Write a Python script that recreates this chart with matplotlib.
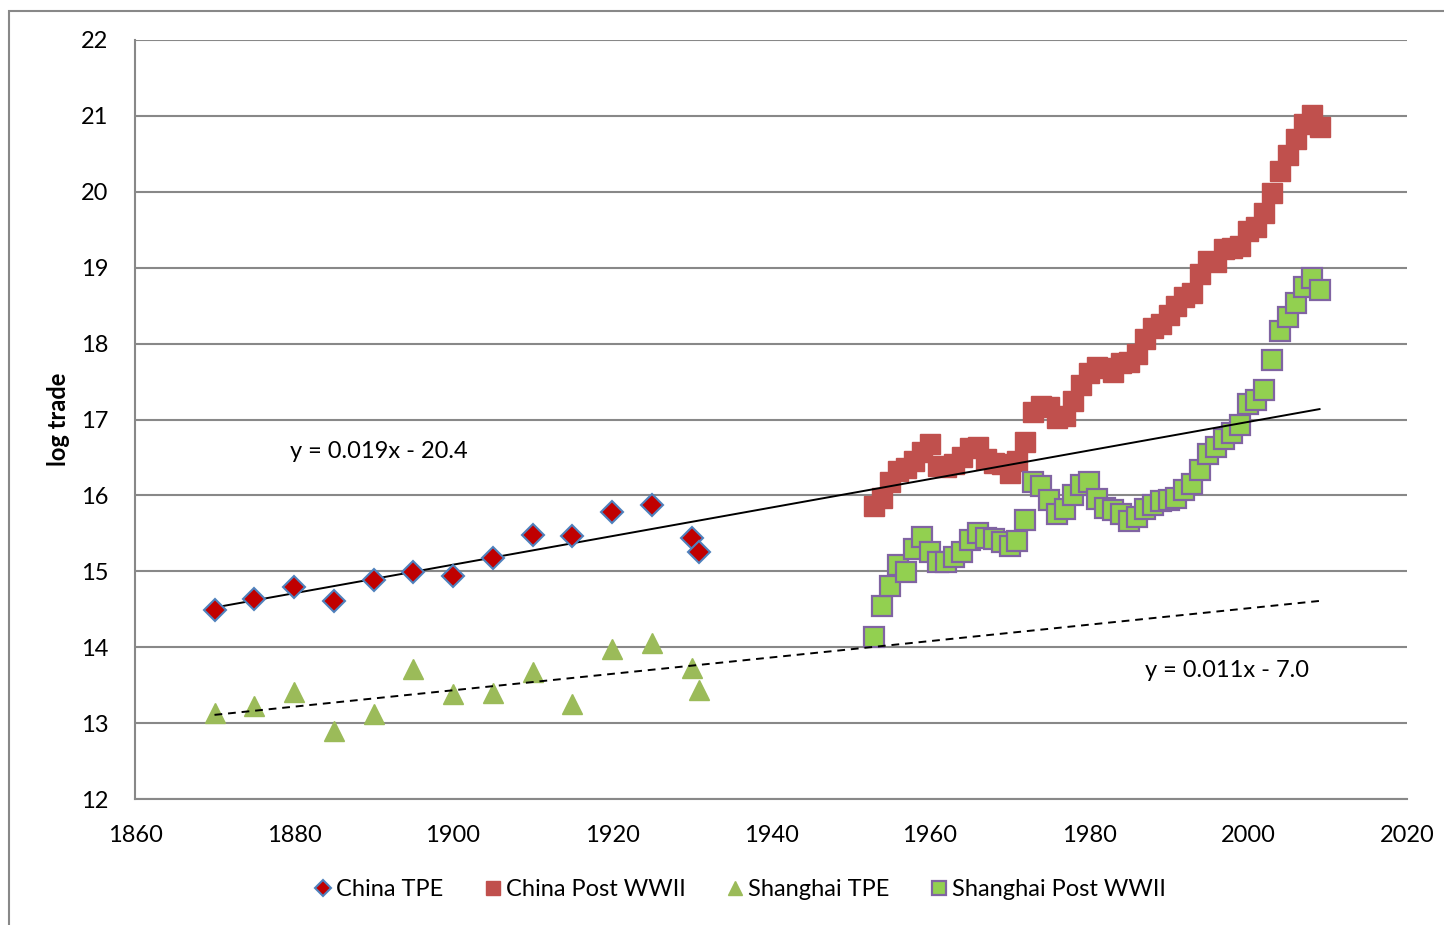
import numpy as np
import matplotlib
matplotlib.use("Agg")
import matplotlib.pyplot as plt
from matplotlib.patches import Rectangle

plt.rcParams['font.family'] = ['Lato', 'DejaVu Sans']

# China / Shanghai, treaty-port era
tpe_years = [1870, 1875, 1880, 1885, 1890, 1895, 1900, 1905, 1910, 1915, 1920, 1925, 1930, 1931]
china_tpe = [14.49, 14.64, 14.79, 14.61, 14.89, 14.99, 14.94, 15.17, 15.48, 15.46, 15.78, 15.87, 15.44, 15.25]
shanghai_tpe = [13.13, 13.22, 13.41, 12.90, 13.12, 13.71, 13.38, 13.40, 13.67, 13.25, 13.98, 14.06, 13.73, 13.43]

# post WWII, yearly 1953-2009
post_years = list(range(1953, 2010))
china_post = [15.86, 15.97, 16.18, 16.32, 16.36, 16.45, 16.57, 16.68, 16.39, 16.38,
              16.41, 16.50, 16.62, 16.64, 16.48, 16.43, 16.41, 16.30, 16.45, 16.70,
              17.10, 17.18, 17.17, 17.02, 17.04, 17.24, 17.45, 17.61, 17.69, 17.68,
              17.62, 17.75, 17.76, 17.86, 18.06, 18.21, 18.26, 18.38, 18.49, 18.61,
              18.67, 18.92, 19.09, 19.08, 19.25, 19.26, 19.28, 19.49, 19.53, 19.72,
              19.99, 20.27, 20.48, 20.69, 20.89, 21.01, 20.85]
shanghai_post = [14.14, 14.54, 14.81, 15.08, 14.99, 15.30, 15.45, 15.25, 15.12, 15.12,
                 15.19, 15.25, 15.41, 15.51, 15.44, 15.42, 15.39, 15.33, 15.40, 15.67,
                 16.18, 16.12, 15.94, 15.76, 15.82, 16.00, 16.14, 16.17, 15.95, 15.83,
                 15.81, 15.75, 15.66, 15.71, 15.82, 15.87, 15.93, 15.94, 15.96, 16.07,
                 16.15, 16.33, 16.54, 16.64, 16.74, 16.82, 16.93, 17.20, 17.26, 17.39,
                 17.79, 18.17, 18.35, 18.54, 18.75, 18.87, 18.71]

fig = plt.figure(figsize=(14.44, 9.25), dpi=100)
# outer chart frame
fig.patches.append(Rectangle((9 / 1444, -0.1), 1.2, 1.1 - 11 / 925, transform=fig.transFigure,
                             fill=False, edgecolor='#888888', linewidth=1.5))

ax = fig.add_axes([135 / 1444, 1 - 799 / 925, (1407 - 135) / 1444, (799 - 40) / 925])

# trend lines fitted to the treaty-port series, extended to 2009
xs = np.array([1870, 2009])
c1 = np.polyfit(tpe_years, china_tpe, 1)
c2 = np.polyfit(tpe_years, shanghai_tpe, 1)
ax.plot(xs, np.polyval(c1, xs), color='black', lw=1.4, zorder=4)
ax.plot(xs, np.polyval(c2, xs), color='black', lw=1.4, ls=(0, (4, 3)), zorder=4)

ax.plot(tpe_years, china_tpe, 'D', ms=11, mfc='#C00000', mec='#4F81BD', mew=1.5,
        label='China TPE', zorder=5)
ax.plot(post_years, china_post, 's', ms=14, mfc='#C0504D', mec='#C0504D', mew=1,
        label='China Post WWII', zorder=3)
ax.plot(tpe_years, shanghai_tpe, '^', ms=14, mfc='#9BBB59', mec='#9BBB59', mew=1,
        label='Shanghai TPE', zorder=3)
ax.plot(post_years, shanghai_post, 's', ms=14, mfc='#92D050', mec='#8064A2', mew=1.6,
        label='Shanghai Post WWII', zorder=3)

ax.text(1879.5, 16.58, 'y = 0.019x - 20.4', fontsize=17, va='center')
ax.text(1987, 13.69, 'y = 0.011x - 7.0', fontsize=17, va='center')

ax.set_xlim(1860, 2020)
ax.set_ylim(12, 22)
ax.set_xticks(range(1860, 2021, 20))
ax.set_yticks(range(12, 23))
ax.tick_params(length=0, labelsize=17)
ax.tick_params(axis='x', pad=19)
ax.tick_params(axis='y', pad=19)
ax.grid(axis='y', color='#888888', lw=1.5)
ax.set_axisbelow(True)
for s in ['top', 'right']:
    ax.spines[s].set_visible(False)
for s in ['left', 'bottom']:
    ax.spines[s].set_color('#888888')
    ax.spines[s].set_linewidth(1.5)

ax.set_ylabel('log trade', fontsize=17, fontweight='bold', labelpad=8)

leg = fig.legend(loc='center', bbox_to_anchor=(740 / 1444, 1 - 890 / 925), ncol=4,
                 frameon=False, fontsize=17, handlelength=0.8, handletextpad=0.15,
                 columnspacing=1.7, markerscale=0.75)

fig.savefig('out.png', dpi=100)
